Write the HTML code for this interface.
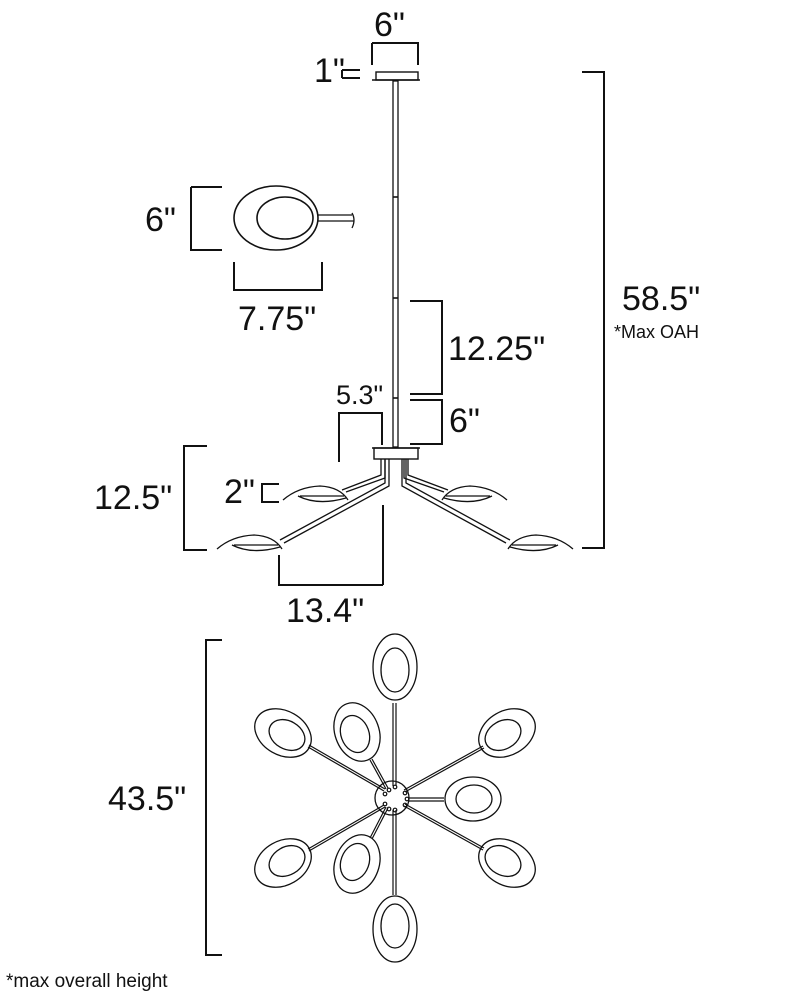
<!DOCTYPE html>
<html><head><meta charset="utf-8"><style>
html,body{margin:0;padding:0;background:#fff}
svg{display:block}
text{font-family:"Liberation Sans",sans-serif;fill:#111}
</style></head><body>
<svg width="800" height="998" viewBox="0 0 800 998" xmlns="http://www.w3.org/2000/svg">
<g fill="none" stroke="#111" stroke-width="1.6">
<path d="M372 43 V65 M372 43 H418 V65" stroke-width="2"/>
<rect x="376" y="72" width="42" height="8" stroke-width="1.4"/>
<line x1="372" y1="80" x2="420" y2="80" stroke-width="1.4"/>
<path d="M342 70 H360 M342 78 H360 M342 70 V78" stroke-width="2"/>
<rect x="393" y="81" width="5" height="366" stroke-width="1.3"/>
<line x1="393" y1="197" x2="398" y2="197"/><line x1="393" y1="298" x2="398" y2="298"/><line x1="393" y1="398" x2="398" y2="398"/>
<path d="M582 72 H604 V548 H582" stroke-width="2"/>
<path d="M410 301 H442 V394 H410" stroke-width="2"/>
<path d="M410 400 H442 V444 H410" stroke-width="2"/>
<path d="M339 462 V413 H382 V445" stroke-width="2"/>
<path d="M191 187 H222 M191 187 V250 H222" stroke-width="2"/>
<ellipse cx="276" cy="218" rx="42" ry="32"/>
<ellipse cx="285" cy="218" rx="28" ry="21"/>
<path d="M318 215 H352 M318 221 H354 M352 213 Q356 220 352 228" stroke-width="1.3"/>
<path d="M234 262 V290 H322 V262" stroke-width="2"/>
<rect x="374" y="448" width="44" height="11" stroke-width="1.4"/>
<line x1="372" y1="448" x2="420" y2="448" stroke-width="1.4"/>
<path d="M381 459 V475 L342 490 M385 459 V478 L346 492" stroke-width="1.3"/>
<path d="M385 459 V483 L280 540 M389 459 V486 L284 543" stroke-width="1.3"/>
<path d="M408 459 V475 L448 490 M404 459 V478 L444 492" stroke-width="1.3"/>
<path d="M406 459 V483 L510 540 M402 459 V486 L506 543" stroke-width="1.3"/>
<g stroke-width="1.3">
<path d="M283 500 Q298 487 320 486 Q340 487 348 500"/>
<path d="M298 496 Q318 506 346 498 M300 496 H344"/>
<path d="M217 549 Q232 536 254 535 Q274 536 282 549"/>
<path d="M232 545 Q252 555 280 547 M234 545 H278"/>
<path d="M507 500 Q492 487 470 486 Q450 487 442 500"/>
<path d="M492 496 Q472 506 444 498 M490 496 H446"/>
<path d="M573 549 Q558 536 536 535 Q516 536 508 549"/>
<path d="M558 545 Q538 555 510 547 M556 545 H512"/>
</g>
<path d="M279 484 H262 V502 H279" stroke-width="2"/>
<path d="M207 446 H184 V550 H207" stroke-width="2"/>
<line x1="383" y1="505" x2="383" y2="585" stroke-width="2"/>
<path d="M279 555 V585 H383" stroke-width="2"/>
<path d="M222 640 H206 V955 H222" stroke-width="2"/>
<circle cx="392" cy="798" r="17" stroke-width="1.3"/>
<g stroke-width="1.2">
<path d="M393 703 V786 M396 703 V786"/>
<path d="M393 810 V895 M396 810 V895"/>
<path d="M308 747 L384 791 M309 745 L385 789"/>
<path d="M308 849 L384 805 M309 851 L385 807"/>
<path d="M370 760 L386 789 M372 759 L388 788"/>
<path d="M370 838 L386 807 M372 839 L388 808"/>
<path d="M484 748 L405 792 M483 746 L404 790"/>
<path d="M484 848 L405 804 M483 850 L404 806"/>
<path d="M408 798 H444 M408 801 H444"/>
</g>
<g stroke-width="1.3">
<ellipse cx="395" cy="667" rx="22" ry="33"/><ellipse cx="395" cy="670" rx="14" ry="22"/>
<ellipse cx="395" cy="929" rx="22" ry="33"/><ellipse cx="395" cy="926" rx="14" ry="22"/>
<ellipse cx="283" cy="733" rx="30" ry="22" transform="rotate(30 283 733)"/><ellipse cx="287" cy="735" rx="19" ry="14" transform="rotate(30 287 735)"/>
<ellipse cx="283" cy="863" rx="30" ry="22" transform="rotate(-30 283 863)"/><ellipse cx="287" cy="861" rx="19" ry="14" transform="rotate(-30 287 861)"/>
<ellipse cx="507" cy="733" rx="30" ry="22" transform="rotate(-30 507 733)"/><ellipse cx="503" cy="735" rx="19" ry="14" transform="rotate(-30 503 735)"/>
<ellipse cx="507" cy="863" rx="30" ry="22" transform="rotate(30 507 863)"/><ellipse cx="503" cy="861" rx="19" ry="14" transform="rotate(30 503 861)"/>
<ellipse cx="357" cy="732" rx="22" ry="30" transform="rotate(-20 357 732)"/><ellipse cx="355" cy="734" rx="14" ry="19" transform="rotate(-20 355 734)"/>
<ellipse cx="357" cy="864" rx="22" ry="30" transform="rotate(20 357 864)"/><ellipse cx="355" cy="862" rx="14" ry="19" transform="rotate(20 355 862)"/>
<ellipse cx="473" cy="799" rx="28" ry="22"/><ellipse cx="474" cy="799" rx="18" ry="14"/>
</g>
<g stroke-width="1.2">
<circle cx="385" cy="794" r="1.8"/><circle cx="389" cy="790" r="1.8"/><circle cx="395" cy="787" r="1.8"/>
<circle cx="405" cy="793" r="1.8"/><circle cx="407" cy="799" r="1.8"/><circle cx="405" cy="805" r="1.8"/>
<circle cx="385" cy="804" r="1.8"/><circle cx="389" cy="809" r="1.8"/><circle cx="395" cy="810" r="1.8"/>
</g>
</g>
<g font-size="34">
<text x="374" y="36">6"</text>
<text x="314" y="82">1"</text>
<text x="145" y="231">6"</text>
<text x="238" y="330">7.75"</text>
<text x="448" y="360">12.25"</text>
<text x="449" y="432">6"</text>
<text x="622" y="310">58.5"</text>
<text x="224" y="503">2"</text>
<text x="94" y="509">12.5"</text>
<text x="286" y="622">13.4"</text>
<text x="108" y="810">43.5"</text>
</g>
<text x="336" y="404" font-size="27">5.3"</text>
<text x="614" y="338" font-size="18">*Max OAH</text>
<text x="6" y="987" font-size="19">*max overall height</text>
</svg>
</body></html>
